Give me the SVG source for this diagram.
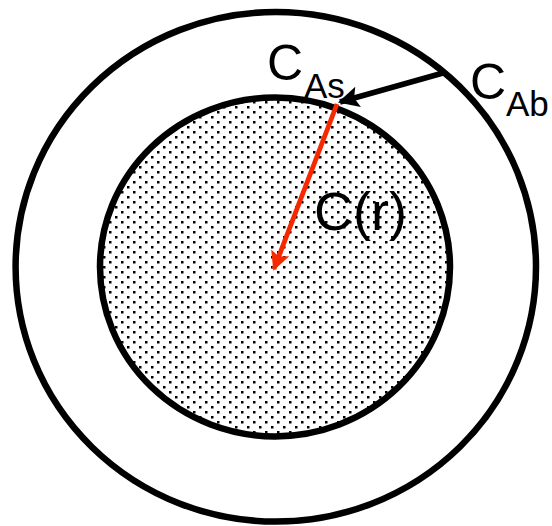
<svg xmlns="http://www.w3.org/2000/svg" width="552" height="526" viewBox="0 0 552 526">
<style>
.ring{fill:none;stroke:#000;stroke-width:6.5}
.lbl{font-family:"Liberation Sans",Arial,sans-serif;fill:#000}
</style>
<defs>
<pattern id="dots" x="0" y="0" width="12" height="10" patternUnits="userSpaceOnUse">
<rect x="1" y="1" width="2.5" height="2.5" fill="#000"/>
<rect x="7" y="6" width="2.5" height="2.5" fill="#000"/>
</pattern>
<marker id="ahBlack" viewBox="0 0 10 10" refX="9" refY="5" markerWidth="4.6" markerHeight="3.8" markerUnits="strokeWidth" orient="auto">
<path d="M0,0 L10,5 L0,10 L2,5 Z" fill="#000"/>
</marker>
<marker id="ahRed" viewBox="0 0 10 10" refX="9" refY="5" markerWidth="4.4" markerHeight="4" markerUnits="strokeWidth" orient="auto">
<path d="M0,0 L10,5 L0,10 L2,5 Z" fill="#f52800"/>
</marker>
</defs>
<g id="outer">
<ellipse cx="275.8" cy="266.8" rx="260.2" ry="254.8" class="ring" fill="#fff"/>
</g>
<g id="inner">
<ellipse cx="275" cy="267" rx="175" ry="169.4" fill="#fff"/>
<ellipse cx="275" cy="267" rx="175" ry="169.4" class="ring" style="fill:url(#dots)"/>
</g>
<g id="connectors">
<line x1="443" y1="73" x2="340" y2="102" stroke="#000" stroke-width="5.5" marker-end="url(#ahBlack)"/>
<line x1="337" y1="104" x2="274" y2="269" stroke="#f52800" stroke-width="4.8" marker-end="url(#ahRed)"/>
</g>
<g id="label-CAs">
<text class="lbl" x="267" y="80" font-size="50">C</text>
<text class="lbl" x="304" y="98" font-size="35">As</text>
</g>
<g id="label-CAb">
<text class="lbl" x="470" y="99" font-size="50">C</text>
<text class="lbl" x="506" y="116" font-size="35">Ab</text>
</g>
<g id="label-Cr">
<text class="lbl" x="314" y="230" font-size="54">C(r)</text>
</g>
</svg>
